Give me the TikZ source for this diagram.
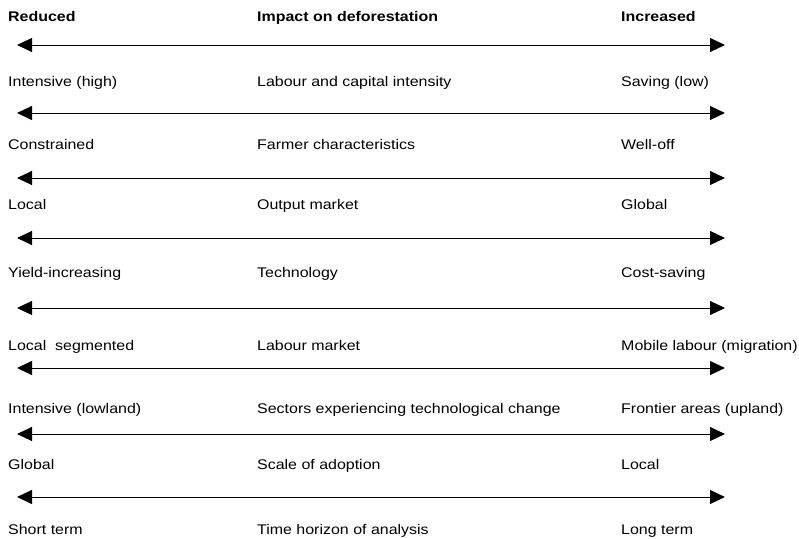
\documentclass[tikz,border=0pt]{standalone}
\usepackage{fontspec}
\setmainfont[FakeStretch=1.14]{Liberation Sans}
\usetikzlibrary{arrows.meta}

\begin{document}
\begin{tikzpicture}[x=1pt,y=-1pt,font=\fontsize{14}{16}\selectfont,
    lbl/.style={anchor=base west,inner sep=0pt},
    hdr/.style={lbl,font=\fontsize{14}{16}\selectfont\bfseries},
    scalearrow/.style={line width=1pt,{Triangle[length=15pt,width=14pt]}-{Triangle[length=15pt,width=14pt]}}]
  \useasboundingbox (0,0) rectangle (799,538);
  % header
  \node[hdr] (hlo) at (8,21) {Reduced};
  \node[hdr] (hfac) at (257,21) {Impact on deforestation};
  \node[hdr] (hhi) at (621,21) {Increased};
  % one arrow and one row of labels per factor
  \foreach \k/\ya/\yt/\lo/\fac/\hi in {
      1/45/86/Intensive (high)/Labour and capital intensity/Saving (low),
      2/113/149/Constrained/Farmer characteristics/Well-off,
      3/178/209/Local/Output market/Global,
      4/238/277/Yield-increasing/Technology/Cost-saving,
      5/308/350/Local\ \ segmented/Labour market/Mobile labour (migration),
      6/368/413/Intensive (lowland)/Sectors experiencing technological change/Frontier areas (upland),
      7/434/469/Global/Scale of adoption/Local,
      8/497/534/Short term/Time horizon of analysis/Long term} {
    \coordinate (l\k) at (17,\ya);
    \coordinate (r\k) at (725,\ya);
    \draw[scalearrow] (l\k) -- (r\k);
    \node[lbl] (lo\k) at (8,\yt) {\lo};
    \node[lbl] (fac\k) at (257,\yt) {\fac};
    \node[lbl] (hi\k) at (621,\yt) {\hi};
  }
\end{tikzpicture}
\end{document}
